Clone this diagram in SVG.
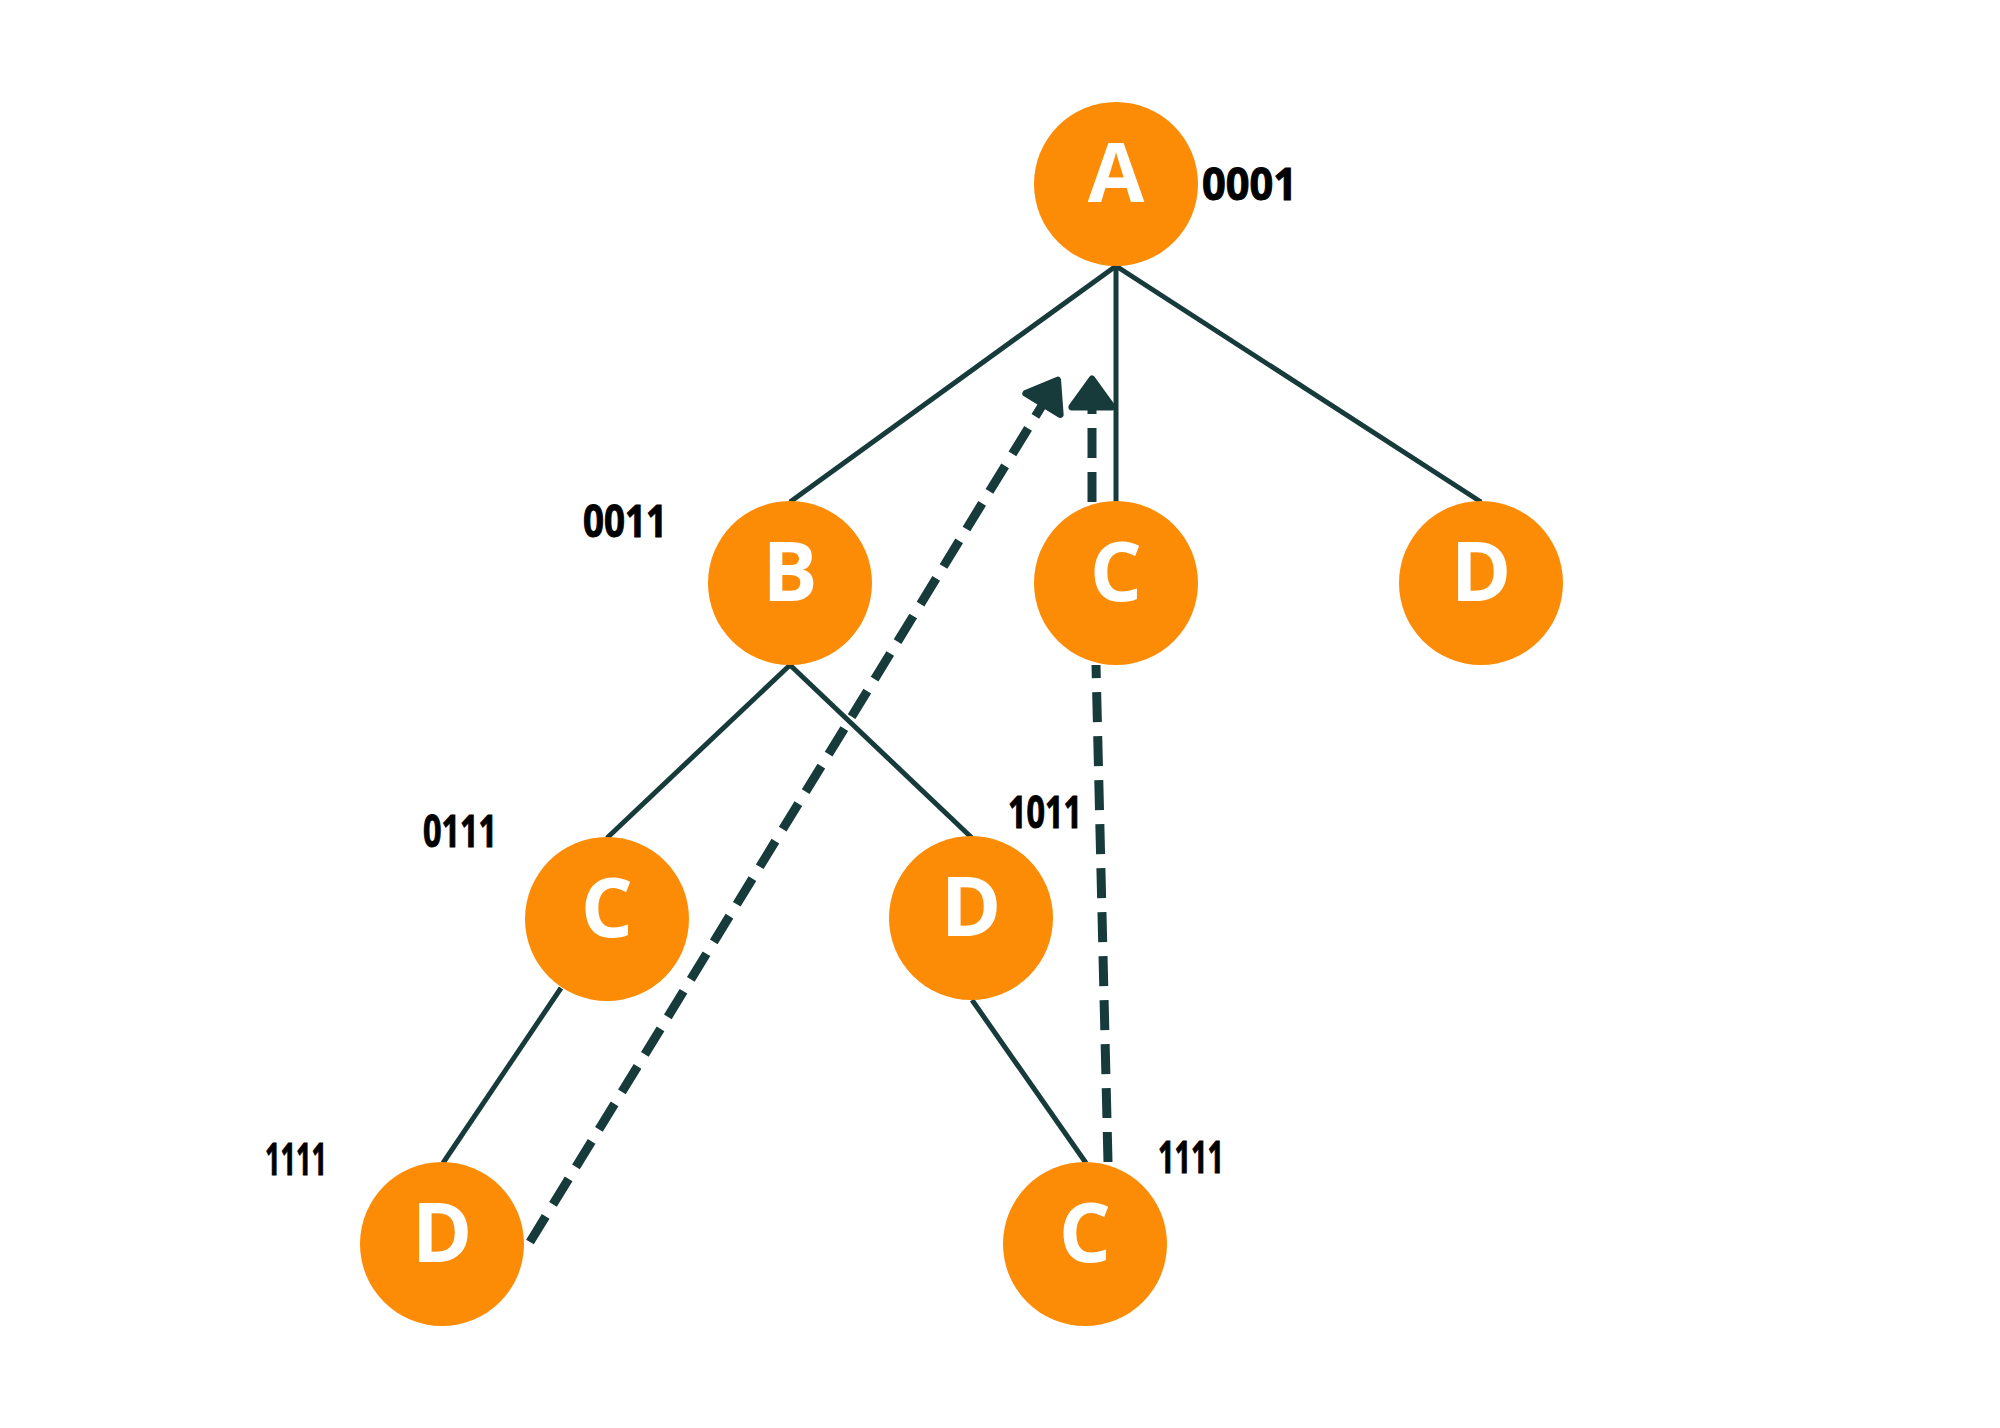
<svg xmlns="http://www.w3.org/2000/svg" width="2000" height="1428" viewBox="0 0 2000 1428">
<style>
.node{fill:#FC8B05}
.lt{font-family:"Open Sans","Liberation Sans",sans-serif;font-weight:700;font-size:82px;fill:#ffffff;text-anchor:middle}
.lb{font-family:"Open Sans","Liberation Sans",sans-serif;font-weight:700;font-size:44px;fill:#000000;stroke:#000000;stroke-width:1}
.edge{stroke:#173A3A;stroke-width:5;fill:none;stroke-linecap:butt}
.dash{stroke:#173A3A;stroke-width:9;fill:none;stroke-dasharray:30 14}
</style>
<defs>
<marker id="ah" markerUnits="userSpaceOnUse" markerWidth="44" markerHeight="54" viewBox="-4 -24 36 48" refX="0" refY="0" orient="auto">
<path d="M0,-18 L25,0 L0,18 Z" fill="#173A3A" stroke="#173A3A" stroke-width="6" stroke-linejoin="round"/>
</marker>
</defs>
<rect width="2000" height="1428" fill="#ffffff"/>
<g id="connectors">
<line class="edge" x1="1116" y1="266" x2="790" y2="502"/>
<line class="edge" x1="1116" y1="266" x2="1116" y2="502"/>
<line class="edge" x1="1116" y1="266" x2="1481" y2="502"/>
<line class="edge" x1="790" y1="665" x2="607" y2="838"/>
<line class="edge" x1="790" y1="665" x2="972" y2="838"/>
<line class="edge" x1="561" y1="988" x2="443" y2="1163"/>
<line class="edge" x1="972" y1="1000" x2="1086" y2="1163"/>
<line class="dash" x1="530" y1="1242" x2="1043" y2="404" marker-end="url(#ah)"/>
<line class="dash" x1="1108" y1="1162" x2="1096" y2="665"/>
<line class="dash" x1="1092" y1="502" x2="1092" y2="407" marker-end="url(#ah)"/>
</g>
<g id="nodeA"><circle class="node" cx="1116" cy="184" r="82"/><text class="lt" x="1116" y="202">A</text><text class="lb" x="1202" y="200" textLength="95" lengthAdjust="spacingAndGlyphs">0001</text></g>
<g id="nodeB"><circle class="node" cx="790" cy="583" r="82"/><text class="lt" x="790" y="601">B</text><text class="lb" x="583" y="537" textLength="84" lengthAdjust="spacingAndGlyphs">0011</text></g>
<g id="nodeC1"><circle class="node" cx="1116" cy="583" r="82"/><text class="lt" x="1116" y="601">C</text></g>
<g id="nodeD1"><circle class="node" cx="1481" cy="583" r="82"/><text class="lt" x="1481" y="601">D</text></g>
<g id="nodeC2"><circle class="node" cx="607" cy="919" r="82"/><text class="lt" x="607" y="937">C</text><text class="lb" x="423" y="847" textLength="74" lengthAdjust="spacingAndGlyphs">0111</text></g>
<g id="nodeD2"><circle class="node" cx="971" cy="918" r="82"/><text class="lt" x="971" y="936">D</text><text class="lb" x="1008" y="828" textLength="74" lengthAdjust="spacingAndGlyphs">1011</text></g>
<g id="nodeD3"><circle class="node" cx="442" cy="1244" r="82"/><text class="lt" x="442" y="1262">D</text><text class="lb" x="265" y="1175" textLength="62" lengthAdjust="spacingAndGlyphs">1111</text></g>
<g id="nodeC3"><circle class="node" cx="1085" cy="1244" r="82"/><text class="lt" x="1085" y="1262">C</text><text class="lb" x="1158" y="1173" textLength="66" lengthAdjust="spacingAndGlyphs">1111</text></g>
</svg>
